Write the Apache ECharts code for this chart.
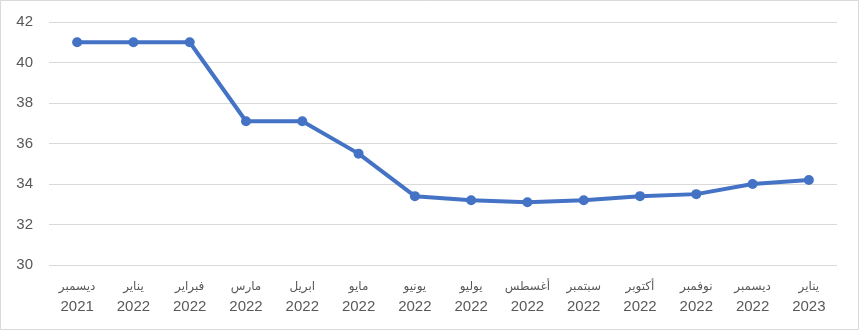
<!DOCTYPE html>
<html><head><meta charset="utf-8">
<script src="https://cdn.jsdelivr.net/npm/echarts@6/dist/echarts.min.js"></script>
<style>html,body{margin:0;padding:0;background:#fff}#c{width:860px;height:331px}</style>
</head><body><div id="c"></div>
<script>
const months = ['ديسمبر','يناير','فبراير','مارس','ابريل','مايو','يونيو','يوليو','أغسطس','سبتمبر','أكتوبر','نوفمبر','ديسمبر','يناير'];
const years = ['2021','2022','2022','2022','2022','2022','2022','2022','2022','2022','2022','2022','2022','2023'];
const values = [41, 41, 41, 37.1, 37.1, 35.5, 33.4, 33.2, 33.1, 33.2, 33.4, 33.5, 34.0, 34.2];
const yTicks = [30, 32, 34, 36, 38, 40, 42];

const categories = months.map((m, i) => m + '|' + years[i]);
const chart = echarts.init(document.getElementById('c'), null, {renderer: 'canvas'});
chart.setOption({
  animation: false,
  backgroundColor: '#fff',
  graphic: [{type: 'rect', shape: {x: 0.5, y: 0.5, width: 858, height: 329}, style: {fill: 'none', stroke: '#d9d9d9', lineWidth: 1}, silent: true}],
  grid: {left: 49, right: 23, top: 22, bottom: 66},
  xAxis: {
    type: 'category', data: categories, boundaryGap: true,
    axisLine: {show: false}, axisTick: {show: false},
    axisLabel: {
      interval: 0, margin: 12,
      formatter: v => { const p = v.split('|'); return '{m|' + p[0] + '}\n{y|' + p[1] + '}'; },
      rich: {
        m: {fontFamily: 'DejaVu Sans', fontSize: 12, color: '#595959', lineHeight: 20},
        y: {fontFamily: 'Liberation Sans', fontSize: 15, color: '#595959', lineHeight: 20}
      }
    }
  },
  yAxis: {
    type: 'value', min: yTicks[0], max: yTicks[yTicks.length - 1], interval: 2,
    axisLine: {show: false}, axisTick: {show: false},
    axisLabel: {fontFamily: 'Liberation Sans', fontSize: 15, color: '#595959', margin: 16},
    splitLine: {lineStyle: {color: '#d9d9d9', width: 1}}
  },
  series: [{
    type: 'line', data: values, symbol: 'circle', symbolSize: 10,
    lineStyle: {color: '#4472C4', width: 4},
    itemStyle: {color: '#4472C4'}
  }]
});
</script></body></html>
